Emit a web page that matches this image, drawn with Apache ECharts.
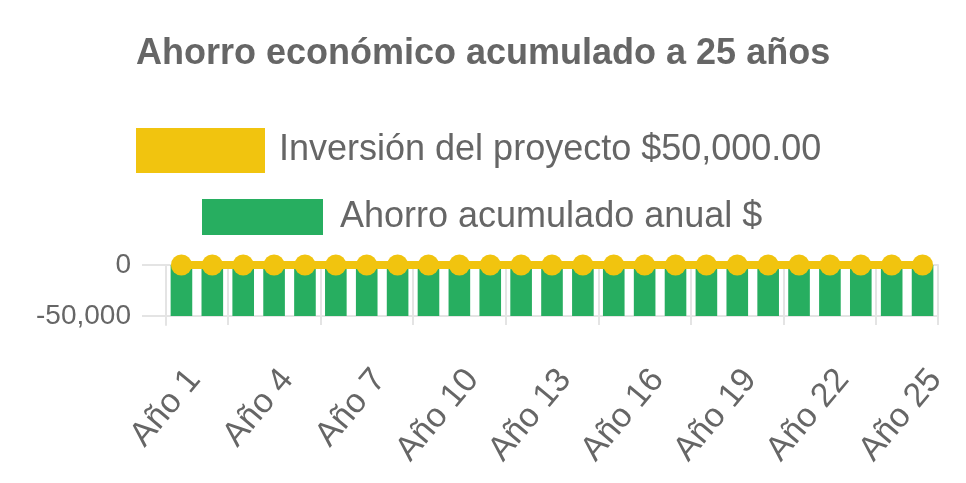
<!DOCTYPE html>
<html>
<head>
<meta charset="utf-8">
<script src="https://cdn.jsdelivr.net/npm/echarts@6/dist/echarts.min.js"></script>
<style>
html,body{margin:0;padding:0;background:#fff;}
#chart{width:966px;height:483px;}
</style>
</head>
<body>
<div id="chart"></div>
<script>
const titleText = 'Ahorro económico acumulado a 25 años';
const categories = ['Año 1','Año 2','Año 3','Año 4','Año 5','Año 6','Año 7','Año 8','Año 9','Año 10','Año 11','Año 12','Año 13','Año 14','Año 15','Año 16','Año 17','Año 18','Año 19','Año 20','Año 21','Año 22','Año 23','Año 24','Año 25'];
const seriesNames = ['Inversión del proyecto $50,000.00', 'Ahorro acumulado anual $'];
const inversion = [0,0,0,0,0,0,0,0,0,0,0,0,0,0,0,0,0,0,0,0,0,0,0,0,0];
const ahorro = [-50000,-50000,-50000,-50000,-50000,-50000,-50000,-50000,-50000,-50000,-50000,-50000,-50000,-50000,-50000,-50000,-50000,-50000,-50000,-50000,-50000,-50000,-50000,-50000,-50000];
const yTicks = [0, -50000];

const FONT = '"Liberation Sans", Arial, Helvetica, sans-serif';
const GRID = '#e4e4e4';
const TEXT = '#666666';
// y-axis extent: ticks 0..-50000 span 51px, axis box spans 60px (x-axis border sits 9px lower)
const yMin = -50000 * 60 / 51;

const chart = echarts.init(document.getElementById('chart'), null, {renderer: 'canvas'});
chart.setOption({
  animation: false,
  backgroundColor: '#ffffff',
  title: {
    text: titleText,
    left: 136, top: 36, padding: 0,
    textStyle: {fontFamily: FONT, fontSize: 36, fontWeight: 'bold', color: TEXT}
  },
  legend: [
    {
      data: [{name: seriesNames[0], icon: 'rect'}],
      left: 136, top: 128, padding: 0,
      itemWidth: 129, itemHeight: 45, itemGap: 0,
      textStyle: {fontFamily: FONT, fontSize: 36, color: TEXT, padding: [0,0,0,9]}
    },
    {
      data: [{name: seriesNames[1], icon: 'rect'}],
      left: 202, top: 199, padding: 0,
      itemWidth: 121, itemHeight: 36, itemGap: 0,
      textStyle: {fontFamily: FONT, fontSize: 36, color: TEXT, padding: [0,0,0,12]}
    }
  ],
  grid: {left: 166, right: 28, top: 265, bottom: 158, containLabel: false},
  xAxis: {
    type: 'category',
    data: categories,
    boundaryGap: true,
    axisLine: {show: true, lineStyle: {color: GRID, width: 2}},
    axisTick: {show: true, length: 25, interval: (i) => i % 3 === 2, lineStyle: {color: GRID, width: 2}},
    splitLine: {show: true, interval: (i) => i % 3 === 2, lineStyle: {color: GRID, width: 2}},
    axisLabel: {interval: 2, rotate: 50, margin: 38, align: 'right', verticalAlign: 'top',
      fontFamily: FONT, fontSize: 34, color: TEXT}
  },
  yAxis: {
    type: 'value',
    min: yMin, max: 0,
    axisLine: {show: true, lineStyle: {color: GRID, width: 2}},
    axisTick: {show: true, length: 24, customValues: yTicks, lineStyle: {color: GRID, width: 2}},
    splitLine: {show: true, lineStyle: {color: GRID, width: 2}},
    axisLabel: {customValues: yTicks, margin: 35, fontFamily: FONT, fontSize: 28, color: TEXT,
      formatter: (v) => v.toLocaleString('en-US')}
  },
  series: [
    {
      name: seriesNames[0],
      type: 'line',
      data: inversion,
      z: 5,
      color: '#f1c40f',
      symbol: 'circle', symbolSize: 21, showAllSymbol: true,
      lineStyle: {color: '#f1c40f', width: 8},
      itemStyle: {color: '#f1c40f'}
    },
    {
      name: seriesNames[1],
      type: 'bar',
      data: ahorro,
      z: 2,
      barWidth: '70%',
      color: '#27ae60',
      itemStyle: {color: '#27ae60'}
    }
  ]
});
</script>
</body>
</html>
